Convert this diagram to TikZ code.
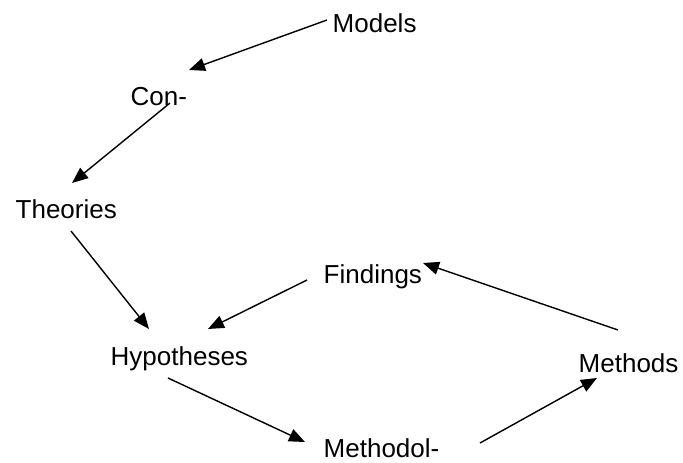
\documentclass[tikz,border=0pt]{standalone}
\usepackage{fontspec}
\setmainfont{Liberation Sans}
\usetikzlibrary{arrows.meta}
\begin{document}
\begin{tikzpicture}[x=1pt,y=-1pt,line width=1.4pt,>={Triangle[length=16pt,width=13pt]},
    lbl/.style={anchor=base west,inner sep=0pt,font=\fontsize{26}{30}\selectfont}]
    \useasboundingbox (0,0) rectangle (683,463);

    % the stages
    \node[lbl] (models) at (332,32) {Models};
    \node[lbl] (con) at (130,105) {Con-};
    \node[lbl] (theories) at (15,218) {Theories};
    \node[lbl] (hyp) at (110,365) {Hypotheses};
    \node[lbl] (findings) at (323,283) {Findings};
    \node[lbl] (methods) at (578,372) {Methods};
    \node[lbl,text depth=0pt] (methodol) at (323,457) {Methodol-};

    % the cycle
    \draw[->] ([shift={(-5,-12)}]models.base west) -- ([shift={(59,-35)}]con.base west);
    \draw[->] ([shift={(40,-2)}]con.base west) -- ([shift={(57,-35)}]theories.base west);
    \draw[->] ([shift={(56,13)}]theories.base west) -- ([shift={(39,-36)}]hyp.base west);
    \draw[->] ([shift={(-16,-3)}]findings.base west) -- ([shift={(98,-36)}]hyp.base west);
    \draw[->] ([shift={(58,13)}]hyp.base west) -- ([shift={(-18,-15)}]methodol.base west);
    \draw[->] ([shift={(157,-14)}]methodol.base west) -- ([shift={(19,6)}]methods.base west);
    \draw[->] ([shift={(40,-42)}]methods.base west) -- ([shift={(100,-20)}]findings.base west);
\end{tikzpicture}
\end{document}
